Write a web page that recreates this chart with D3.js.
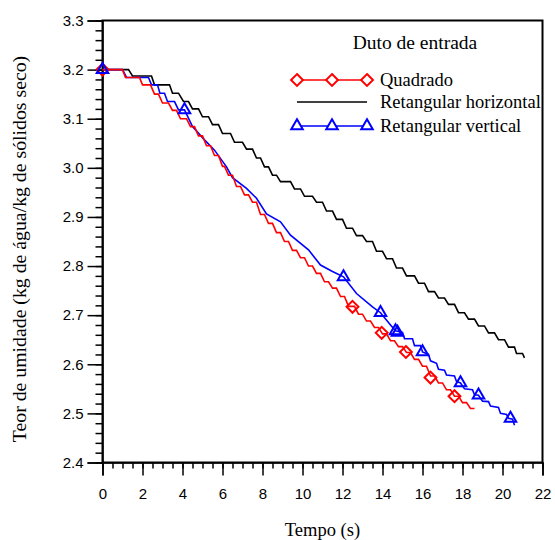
<!DOCTYPE html>
<html>
<head>
<meta charset="utf-8">
<script src="https://cdn.jsdelivr.net/npm/d3@7"></script>
<style>
  body { margin: 0; background: #fff; }
  svg { display: block; }
</style>
</head>
<body>
<div id="chart"></div>
<script>
// Tempo (s) vs teor de umidade, three inlet ducts
const xTicks = [0, 2, 4, 6, 8, 10, 12, 14, 16, 18, 20, 22];
const yTicks = [2.4, 2.5, 2.6, 2.7, 2.8, 2.9, 3.0, 3.1, 3.2, 3.3];

// steps: [start of flat, end of flat, value]
const quadradoSteps = [
    [0, 1.0, 3.200], [1.15, 1.85, 3.184], [2.0, 2.4, 3.169], [2.6, 2.8, 3.150],
    [3.0, 3.3, 3.132], [3.5, 3.7, 3.117], [3.9, 4.2, 3.100], [4.4, 4.6, 3.084],
    [4.8, 5.0, 3.065], [5.2, 5.4, 3.045], [5.6, 5.8, 3.025], [6.0, 6.1, 3.003],
    [6.3, 6.5, 2.985], [6.7, 6.9, 2.962], [7.1, 7.3, 2.945], [7.5, 7.7, 2.930],
    [7.9, 8.1, 2.905], [8.3, 8.5, 2.887], [8.7, 8.9, 2.868], [9.1, 9.3, 2.850],
    [9.5, 9.7, 2.832], [9.9, 10.1, 2.817], [10.3, 10.5, 2.800], [10.7, 10.9, 2.785],
    [11.1, 11.3, 2.768], [11.5, 11.7, 2.755], [11.9, 12.1, 2.738], [12.3, 12.6, 2.718],
    [12.8, 13.0, 2.702], [13.2, 13.4, 2.688], [13.6, 13.8, 2.675], [14.0, 14.2, 2.662],
    [14.4, 14.6, 2.648], [14.8, 15.0, 2.636], [15.2, 15.4, 2.624], [15.6, 15.8, 2.610],
    [16.0, 16.2, 2.596], [16.4, 16.6, 2.576], [16.8, 17.0, 2.562], [17.2, 17.4, 2.548],
    [17.6, 17.8, 2.535], [18.0, 18.2, 2.522], [18.4, 18.6, 2.510]
];
const quadradoMarkers = [
    [0, 3.200], [12.5, 2.717], [13.96, 2.664], [15.17, 2.625], [16.4, 2.573], [17.6, 2.535]
];

const horizontalSteps = [
    [0, 1.3, 3.200], [1.5, 2.45, 3.187], [2.6, 3.35, 3.169], [3.5, 3.8, 3.152],
    [4.05, 4.3, 3.135], [4.5, 4.8, 3.120], [5.0, 5.3, 3.104], [5.5, 5.8, 3.088],
    [6.0, 6.4, 3.070], [6.6, 7.0, 3.052], [7.2, 7.5, 3.038], [7.7, 7.9, 3.020],
    [8.1, 8.3, 3.002], [8.5, 8.7, 2.985], [8.9, 9.4, 2.972], [9.6, 9.9, 2.957],
    [10.1, 10.5, 2.942], [10.7, 11.0, 2.930], [11.2, 11.5, 2.912], [11.7, 12.0, 2.895],
    [12.2, 12.5, 2.877], [12.7, 13.0, 2.862], [13.2, 13.5, 2.850], [13.7, 14.0, 2.830],
    [14.2, 14.5, 2.815], [14.7, 15.0, 2.796], [15.2, 15.6, 2.780], [15.8, 16.1, 2.765],
    [16.3, 16.6, 2.748], [16.8, 17.1, 2.735], [17.3, 17.6, 2.722], [17.8, 18.1, 2.705],
    [18.3, 18.6, 2.692], [18.8, 19.1, 2.678], [19.3, 19.6, 2.664], [19.8, 20.1, 2.650],
    [20.3, 20.6, 2.635], [20.7, 21.0, 2.622], [21.1, 21.1, 2.613]
];

const verticalPoints = [
    [0, 3.200], [1.0, 3.200], [1.2, 3.184], [2.3, 3.184], [2.45, 3.169], [2.75, 3.169],
    [2.87, 3.152], [3.1, 3.152], [3.25, 3.135], [3.6, 3.135], [3.8, 3.118], [4.1, 3.118],
    [4.5, 3.084], [5.1, 3.057], [5.6, 3.036], [6.2, 3.002], [6.5, 2.980], [7.2, 2.958],
    [7.7, 2.938], [8.2, 2.906], [8.9, 2.890], [9.4, 2.863], [10.3, 2.833], [10.9, 2.802],
    [11.5, 2.789], [12.05, 2.778], [12.7, 2.744], [13.5, 2.717], [13.9, 2.705],
    [14.4, 2.680], [14.65, 2.668], [15.0, 2.665], [15.1, 2.652], [15.5, 2.652],
    [15.6, 2.638], [15.9, 2.638], [16.0, 2.625], [16.3, 2.620], [16.4, 2.607],
    [16.7, 2.602], [16.8, 2.590], [17.1, 2.588], [17.2, 2.578], [17.6, 2.576],
    [17.7, 2.565], [17.9, 2.562], [18.1, 2.550], [18.5, 2.548], [18.6, 2.538],
    [18.8, 2.537], [19.0, 2.525], [19.3, 2.524], [19.4, 2.515], [19.8, 2.512],
    [19.9, 2.500], [20.2, 2.498], [20.3, 2.490], [20.5, 2.488], [20.6, 2.476]
];
const verticalMarkers = [
    [0, 3.200], [4.1, 3.118], [12.05, 2.778], [13.9, 2.705], [14.65, 2.668], [14.75, 2.665],
    [16.0, 2.625], [17.9, 2.562], [18.8, 2.537], [20.4, 2.490]
];

const legendLabels = ["Quadrado", "Retangular horizontal", "Retangular vertical"];

function expandSteps(steps) {
    let pts = [];
    steps.forEach(s => {
        pts.push([s[0], s[2]]);
        if (s[1] !== s[0]) pts.push([s[1], s[2]]);
    });
    return pts;
}

const serif = "'Liberation Serif', 'Times New Roman', serif";
const totalWidth = 555, totalHeight = 540;
const margin = {top: 20.5, right: 12.5, bottom: 77.5, left: 102.5};
const width = totalWidth - margin.left - margin.right;
const height = totalHeight - margin.top - margin.bottom;

const x = d3.scaleLinear().domain([0, 22]).range([0, width]);
const y = d3.scaleLinear().domain([2.4, 3.3]).range([height, 0]);

const svg = d3.select("#chart").append("svg")
    .attr("width", totalWidth)
    .attr("height", totalHeight);
const g = svg.append("g")
    .attr("transform", `translate(${margin.left},${margin.top})`);

// minor ticks
const xMinor = d3.range(0, 22.001, 0.5);
const yMinor = d3.range(2.4, 3.3001, 0.02);

g.append("g")
    .attr("transform", `translate(0,${height})`)
    .call(d3.axisBottom(x).tickValues(xMinor).tickSize(6).tickFormat(""))
    .call(a => a.select(".domain").remove());
g.append("g")
    .call(d3.axisLeft(y).tickValues(yMinor).tickSize(7).tickFormat(""))
    .call(a => a.select(".domain").remove());

const xAxis = g.append("g")
    .attr("transform", `translate(0,${height})`)
    .call(d3.axisBottom(x).tickValues(xTicks).tickSize(13).tickPadding(13).tickFormat(d3.format("d")));
const yAxis = g.append("g")
    .call(d3.axisLeft(y).tickValues(yTicks).tickSize(15).tickPadding(4).tickFormat(d3.format(".1f")));

[xAxis, yAxis].forEach(a => {
    a.selectAll("text")
        .style("font-family", "'Liberation Sans', Arial, sans-serif")
        .style("font-size", "15px")
        .attr("fill", "#000");
});
g.selectAll(".tick line").attr("stroke", "#000").attr("stroke-width", 1.5);
g.selectAll(".domain").attr("stroke", "#000").attr("stroke-width", 1.5);

// frame
g.append("rect")
    .attr("width", width)
    .attr("height", height)
    .attr("fill", "none")
    .attr("stroke", "#000")
    .attr("stroke-width", 2);

const line = d3.line()
    .x(d => x(d[0]))
    .y(d => y(d[1]));

g.append("path").datum(expandSteps(horizontalSteps))
    .attr("d", line).attr("fill", "none").attr("stroke", "#000").attr("stroke-width", 1.6);
g.append("path").datum(verticalPoints)
    .attr("d", line).attr("fill", "none").attr("stroke", "#0000ff").attr("stroke-width", 1.6);
g.append("path").datum(expandSteps(quadradoSteps))
    .attr("d", line).attr("fill", "none").attr("stroke", "#ff0000").attr("stroke-width", 1.6);

const diamond = d3.symbol().type(d3.symbolDiamond2).size(90);
const triangle = d3.symbol().type(d3.symbolTriangle2).size(95);

function drawMarkers(data, sym, color) {
    g.append("g").selectAll("path")
        .data(data)
        .join("path")
        .attr("d", sym)
        .attr("transform", d => `translate(${x(d[0])},${y(d[1])})`)
        .attr("fill", "none")
        .attr("stroke", color)
        .attr("stroke-width", 2);
}
drawMarkers(quadradoMarkers, diamond, "#ff0000");
drawMarkers(verticalMarkers, triangle, "#0000ff");

// axis titles
svg.append("text")
    .attr("x", margin.left + width / 2)
    .attr("y", 536)
    .attr("text-anchor", "middle")
    .style("font-family", serif)
    .style("font-size", "18.5px")
    .text("Tempo (s)");
svg.append("text")
    .attr("transform", `translate(26,249) rotate(-90)`)
    .attr("text-anchor", "middle")
    .style("font-family", serif)
    .style("font-size", "19.8px")
    .text("Teor de umidade (kg de água/kg de sólidos seco)");

// legend
const legend = svg.append("g").attr("transform", "translate(297,0)");
legend.append("text")
    .attr("x", 118).attr("y", 49)
    .attr("text-anchor", "middle")
    .style("font-family", serif)
    .style("font-size", "19.5px")
    .text("Duto de entrada");

const legendRows = [
    {label: legendLabels[0], color: "#ff0000", sym: diamond, y: 80},
    {label: legendLabels[1], color: "#000", sym: null, y: 102},
    {label: legendLabels[2], color: "#0000ff", sym: triangle, y: 126}
];
legendRows.forEach(r => {
    legend.append("line")
        .attr("x1", 0).attr("x2", 70)
        .attr("y1", r.y).attr("y2", r.y)
        .attr("stroke", r.color).attr("stroke-width", 1.6);
    if (r.sym) {
        [0, 35, 70].forEach(px => {
            legend.append("path")
                .attr("d", r.sym)
                .attr("transform", `translate(${px},${r.y})`)
                .attr("fill", "#fff")
                .attr("stroke", r.color)
                .attr("stroke-width", 2);
        });
    }
    legend.append("text")
        .attr("x", 83).attr("y", r.y + 6)
        .style("font-family", serif)
        .style("font-size", "18.5px")
        .text(r.label);
});
</script>
</body>
</html>
